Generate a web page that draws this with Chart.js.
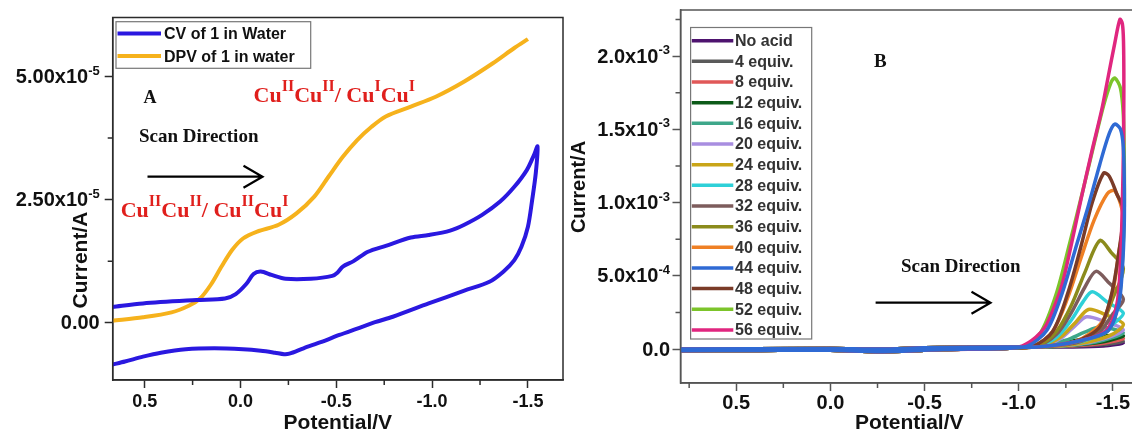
<!DOCTYPE html>
<html>
<head>
<meta charset="utf-8">
<script src="https://cdn.jsdelivr.net/npm/chart.js@4.4.1/dist/chart.umd.min.js"></script>
<style>
  html, body { margin: 0; padding: 0; background: #fff; }
  body { width: 1132px; height: 436px; overflow: hidden; position: relative; }
  canvas { position: absolute; top: 0; }
  #chartA { left: 0; }
  #chartB { left: 566px; }
</style>
</head>
<body>
<canvas id="chartA" width="566" height="436"></canvas>
<canvas id="chartB" width="580" height="436"></canvas>
<script>
// ---- panel A : CV and DPV of 1 in water, current in 1e-5 A ----
const cvPotential = [0.668, 0.509, 0.230, 0.081, 0.025, -0.031, -0.068, -0.106, -0.162, -0.236, -0.367, -0.479, -0.507, -0.534, -0.590, -0.665, -0.758, -0.889, -0.982, -1.094, -1.168, -1.261, -1.355, -1.429, -1.494, -1.532, -1.550,
  -1.541, -1.522, -1.500, -1.466, -1.429, -1.373, -1.299, -1.168, -0.982, -0.795, -0.702, -0.609, -0.516, -0.423, -0.329, -0.255, -0.227, -0.180, -0.106, -0.013, 0.137, 0.286, 0.416, 0.509, 0.603, 0.668];
const cvCurrent = [0.32, 0.39, 0.46, 0.49, 0.58, 0.79, 0.99, 1.04, 0.97, 0.89, 0.89, 0.95, 1.02, 1.14, 1.25, 1.44, 1.56, 1.73, 1.78, 1.87, 1.99, 2.19, 2.46, 2.76, 3.10, 3.41, 3.58,
  3.04, 2.49, 1.95, 1.54, 1.27, 1.04, 0.83, 0.65, 0.39, 0.12, 0.01, -0.12, -0.25, -0.39, -0.52, -0.63, -0.64, -0.61, -0.57, -0.54, -0.52, -0.54, -0.61, -0.69, -0.79, -0.85];
const dpvPotential = [0.668, 0.509, 0.360, 0.267, 0.211, 0.155, 0.099, 0.043, -0.013, -0.087, -0.199, -0.292, -0.385, -0.460, -0.534, -0.609, -0.684, -0.758, -0.889, -1.019, -1.168, -1.317, -1.429, -1.500];
const dpvCurrent = [0.04, 0.11, 0.21, 0.35, 0.49, 0.77, 1.14, 1.48, 1.71, 1.85, 1.99, 2.22, 2.56, 2.97, 3.37, 3.71, 3.98, 4.19, 4.39, 4.59, 4.90, 5.27, 5.58, 5.76];
const seriesA = ["CV of 1 in Water", "DPV of 1 in water"];

// ---- panel B : CVs with added acid, [potential V, current 1e-3 A] ----
const equivLabels = ["No acid", "4 equiv.", "8 equiv.", "12 equiv.", "16 equiv.", "20 equiv.", "24 equiv.", "28 equiv.",
  "32 equiv.", "36 equiv.", "40 equiv.", "44 equiv.", "48 equiv.", "52 equiv.", "56 equiv."];
const baseForward = [[0.80, -0.012], [0.40, -0.010], [0.00, -0.008], [-0.27, -0.018], [-0.60, -0.004], [-0.95, 0.006]];
const baseReverse = [[-0.95, 0.014], [-0.50, 0.008], [-0.27, 0.000], [0.00, 0.004], [0.80, 0.000]];
const noAcid = [[-1.10, 0.014], [-1.30, 0.020], [-1.45, 0.030], [-1.555, 0.040], [-1.45, 0.020], [-1.25, 0.014], [-1.10, 0.014]];
const eq4 = [[-1.15, 0.018], [-1.30, 0.035], [-1.45, 0.048], [-1.555, 0.052], [-1.45, 0.030], [-1.25, 0.018], [-1.10, 0.014]];
const eq8 = [[-1.15, 0.020], [-1.30, 0.045], [-1.42, 0.066], [-1.555, 0.072], [-1.45, 0.040], [-1.25, 0.020], [-1.10, 0.014]];
const eq12 = [[-1.15, 0.022], [-1.30, 0.058], [-1.42, 0.086], [-1.555, 0.090], [-1.45, 0.050], [-1.25, 0.022], [-1.10, 0.014]];
const eq16 = [[-1.12, 0.022], [-1.25, 0.060], [-1.35, 0.115], [-1.43, 0.150], [-1.555, 0.110], [-1.45, 0.060], [-1.30, 0.028], [-1.10, 0.014]];
const eq20 = [[-1.12, 0.022], [-1.22, 0.070], [-1.30, 0.160], [-1.36, 0.220], [-1.45, 0.190], [-1.555, 0.130], [-1.45, 0.070], [-1.30, 0.030], [-1.10, 0.014]];
const eq24 = [[-1.12, 0.022], [-1.22, 0.080], [-1.30, 0.180], [-1.37, 0.270], [-1.45, 0.240], [-1.555, 0.170], [-1.48, 0.090], [-1.30, 0.032], [-1.10, 0.014]];
const eq28 = [[-1.10, 0.022], [-1.20, 0.080], [-1.28, 0.200], [-1.34, 0.320], [-1.39, 0.390], [-1.47, 0.320], [-1.555, 0.245], [-1.50, 0.170], [-1.43, 0.100], [-1.30, 0.040], [-1.10, 0.014]];
const eq32 = [[-1.10, 0.022], [-1.20, 0.100], [-1.28, 0.250], [-1.35, 0.420], [-1.41, 0.530], [-1.48, 0.450], [-1.555, 0.340], [-1.50, 0.240], [-1.43, 0.120], [-1.30, 0.040], [-1.10, 0.014]];
const eq36 = [[-1.10, 0.022], [-1.20, 0.120], [-1.28, 0.300], [-1.35, 0.520], [-1.43, 0.740], [-1.49, 0.660], [-1.555, 0.550], [-1.50, 0.350], [-1.43, 0.150], [-1.30, 0.050], [-1.10, 0.014]];
const eq40 = [[-1.08, 0.022], [-1.18, 0.120], [-1.26, 0.350], [-1.33, 0.620], [-1.40, 0.880], [-1.47, 1.060], [-1.51, 1.080], [-1.555, 0.900], [-1.53, 0.650], [-1.50, 0.400], [-1.44, 0.180], [-1.30, 0.050], [-1.10, 0.014]];
const eq44 = [[-1.05, 0.022], [-1.15, 0.130], [-1.23, 0.380], [-1.30, 0.680], [-1.37, 0.980], [-1.43, 1.260], [-1.48, 1.470], [-1.51, 1.535], [-1.54, 1.500], [-1.555, 1.380], [-1.56, 1.150], [-1.56, 0.850], [-1.55, 0.550], [-1.53, 0.300], [-1.47, 0.120], [-1.30, 0.050], [-1.10, 0.014]];
const eq48 = [[-1.08, 0.022], [-1.18, 0.120], [-1.26, 0.380], [-1.33, 0.700], [-1.39, 1.000], [-1.45, 1.200], [-1.48, 1.180], [-1.52, 1.060], [-1.555, 0.950], [-1.53, 0.650], [-1.49, 0.360], [-1.43, 0.150], [-1.30, 0.050], [-1.10, 0.014]];
const eq52 = [[-1.04, 0.022], [-1.12, 0.120], [-1.20, 0.380], [-1.27, 0.720], [-1.34, 1.080], [-1.40, 1.400], [-1.45, 1.660], [-1.49, 1.820], [-1.51, 1.850], [-1.54, 1.780], [-1.555, 1.600], [-1.56, 1.300], [-1.56, 0.950], [-1.55, 0.600], [-1.53, 0.320], [-1.47, 0.120], [-1.30, 0.050], [-1.10, 0.014]];
const eq56 = [[-1.02, 0.022], [-1.09, 0.080], [-1.14, 0.150], [-1.18, 0.260], [-1.23, 0.440], [-1.28, 0.720], [-1.33, 1.020], [-1.39, 1.360], [-1.44, 1.630], [-1.475, 1.860], [-1.51, 2.090], [-1.537, 2.250], [-1.55, 2.220], [-1.556, 2.100], [-1.558, 1.800], [-1.556, 1.400], [-1.55, 1.000], [-1.54, 0.600], [-1.52, 0.300], [-1.46, 0.120], [-1.30, 0.050], [-1.10, 0.014]];
const curvesB = [noAcid, eq4, eq8, eq12, eq16, eq20, eq24, eq28, eq32, eq36, eq40, eq44, eq48, eq52, eq56];

// ---- ticks ----
const xTicks = [0.5, 0, -0.5, -1, -1.5];
const xMinorA = [0.25, -0.25, -0.75, -1.25];
const xMinorB = [0.75, 0.25, -0.25, -0.75, -1.25];
const yTicksA = [0, 2.5, 5];
const yMinorA = [1.25, 3.75];
const yTicksB = [0, 0.5, 1, 1.5, 2];
const yMinorB = [0.25, 0.75, 1.25, 1.75, 2.25];

// styles
const colorsA = ["#2a18e0", "#f6b21c"];
const colorsB = ["#4e136f", "#5a5a5a", "#e05858", "#0c5a18", "#3ea78a", "#a88ee0", "#c9a518", "#2ed0d8",
  "#7d5c5c", "#8b8b1c", "#ef8024", "#2f6ad4", "#7a3b28", "#7cc42a", "#e0267f"];

const SANS = "'Liberation Sans', Arial, sans-serif";
const SERIF = "'Liberation Serif', 'Times New Roman', serif";
Chart.defaults.font.family = SANS;
Chart.defaults.font.weight = "bold";
Chart.defaults.color = "#111";

function pairs(xs, ys) {
  return xs.map((x, i) => ({ x: x, y: ys[i] }));
}

function axes(o) {
  return {
    x: {
      type: "linear", min: o.xMin, max: o.xMax, reverse: true,
      afterFit: (s) => { s.height = o.xHeight; },
      afterBuildTicks: (s) => { s.ticks = xTicks.map((v) => ({ value: v })); },
      grid: { display: true, drawOnChartArea: false, drawTicks: true, tickLength: 8, tickWidth: 1.5, tickColor: o.frame },
      border: { display: true, color: o.frame, width: 1.5 },
      ticks: { font: { size: o.xTickSize }, color: "#111", padding: o.xPad, maxRotation: 0, callback: (v) => v.toFixed(1) },
      title: { display: true, text: "Potential/V", font: { size: 21 }, color: "#111", padding: { top: 0, bottom: 0 } },
    },
    y: {
      type: "linear", min: o.yMin, max: o.yMax,
      afterFit: (s) => { s.width = o.yWidth; },
      afterBuildTicks: (s) => { s.ticks = o.yTicks.map((v) => ({ value: v })); },
      grid: { display: true, drawOnChartArea: false, drawTicks: true, tickLength: 8, tickWidth: 1.5, tickColor: o.frame },
      border: { display: true, color: o.frame, width: 1.5 },
      ticks: { display: false },
    },
  };
}

// draws the box round the plot and the short minor ticks
function frame(chart, color, xMinor, yMinor) {
  const ctx = chart.ctx, a = chart.chartArea, sx = chart.scales.x, sy = chart.scales.y;
  ctx.save();
  ctx.strokeStyle = color;
  ctx.lineWidth = 1.5;
  ctx.strokeRect(a.left, a.top, a.right - a.left, a.bottom - a.top);
  ctx.beginPath();
  xMinor.forEach((v) => { const p = sx.getPixelForValue(v); ctx.moveTo(p, a.bottom); ctx.lineTo(p, a.bottom + 5); });
  yMinor.forEach((v) => { const p = sy.getPixelForValue(v); ctx.moveTo(a.left, p); ctx.lineTo(a.left - 5, p); });
  ctx.stroke();
  ctx.restore();
}

// y tick labels like 5.00x10^-5 with a real raised exponent
function yLabels(chart, ticks, fmt, size, supSize, gap) {
  const ctx = chart.ctx, sy = chart.scales.y;
  const right = chart.chartArea.left - 8 - gap;
  ctx.save();
  ctx.fillStyle = "#111";
  ticks.forEach((v) => {
    const t = fmt(v), py = sy.getPixelForValue(v);
    ctx.font = "bold " + supSize + "px " + SANS;
    const ws = t[1] ? ctx.measureText(t[1]).width : 0;
    if (t[1]) {
      ctx.textAlign = "left"; ctx.textBaseline = "alphabetic";
      ctx.fillText(t[1], right - ws, py - 2);
    }
    ctx.font = "bold " + size + "px " + SANS;
    ctx.textAlign = "right"; ctx.textBaseline = "middle";
    ctx.fillText(t[0], right - ws, py + 1);
  });
  ctx.restore();
}

function yTitle(ctx, text, x, y, size) {
  ctx.save();
  ctx.translate(x, y);
  ctx.rotate(-Math.PI / 2);
  ctx.font = "bold " + size + "px " + SANS;
  ctx.fillStyle = "#111";
  ctx.textAlign = "center";
  ctx.textBaseline = "middle";
  ctx.fillText(text, 0, 0);
  ctx.restore();
}

function serifText(ctx, text, x, y, size, color) {
  ctx.save();
  ctx.font = "bold " + size + "px " + SERIF;
  ctx.fillStyle = color || "#111";
  ctx.textAlign = "left";
  ctx.textBaseline = "alphabetic";
  ctx.fillText(text, x, y);
  ctx.restore();
}

// text with raised roman numerals, e.g. Cu^II
function richText(ctx, parts, x, y) {
  ctx.save();
  ctx.fillStyle = "#e01f1c";
  ctx.textAlign = "left";
  ctx.textBaseline = "alphabetic";
  parts.forEach((p) => {
    ctx.font = "bold " + (p[1] ? 16 : 22) + "px " + SERIF;
    ctx.fillText(p[0], x, p[1] ? y - 11 : y);
    x += ctx.measureText(p[0]).width;
  });
  ctx.restore();
}

function arrow(ctx, x1, x2, y) {
  ctx.save();
  ctx.strokeStyle = "#000";
  ctx.lineWidth = 2.2;
  ctx.beginPath();
  ctx.moveTo(x1, y); ctx.lineTo(x2, y);
  ctx.moveTo(x2 - 19, y - 11); ctx.lineTo(x2, y); ctx.lineTo(x2 - 19, y + 11);
  ctx.stroke();
  ctx.restore();
}

function legendBox(chart, box, x0, x1, x2, y0, dy, size, textColor, lineW) {
  const ctx = chart.ctx;
  ctx.save();
  ctx.fillStyle = "#fff";
  ctx.fillRect(box[0], box[1], box[2], box[3]);
  ctx.strokeStyle = "#777";
  ctx.lineWidth = 1.2;
  ctx.strokeRect(box[0], box[1], box[2], box[3]);
  ctx.font = "bold " + size + "px " + SANS;
  ctx.textBaseline = "middle";
  ctx.textAlign = "left";
  chart.data.datasets.forEach((d, i) => {
    const y = y0 + i * dy;
    ctx.strokeStyle = d.borderColor;
    ctx.lineWidth = lineW;
    ctx.beginPath(); ctx.moveTo(x0, y); ctx.lineTo(x1, y); ctx.stroke();
    ctx.fillStyle = textColor;
    ctx.fillText(d.label, x2, y + 1);
  });
  ctx.restore();
}

// ---- chart A ----
new Chart(document.getElementById("chartA"), {
  type: "scatter",
  data: {
    datasets: [
      { label: seriesA[0], data: pairs(cvPotential, cvCurrent), borderColor: colorsA[0], borderWidth: 4, showLine: true, pointRadius: 0, tension: 0.3 },
      { label: seriesA[1], data: pairs(dpvPotential, dpvCurrent), borderColor: colorsA[1], borderWidth: 4, showLine: true, pointRadius: 0, tension: 0.3 },
    ],
  },
  options: {
    responsive: false, animation: false,
    layout: { padding: { top: 17.5, right: 3, left: 0, bottom: 0 } },
    plugins: { legend: { display: false }, tooltip: { enabled: false } },
    scales: axes({
      xMin: -1.683, xMax: 0.667, xHeight: 56, xTickSize: 18, xPad: 3,
      yMin: -1.165, yMax: 6.2, yWidth: 112.7, yTicks: yTicksA, frame: "#2b2b2b",
    }),
  },
  plugins: [{
    id: "decorA",
    afterDraw(chart) {
      const ctx = chart.ctx;
      frame(chart, "#2b2b2b", xMinorA, yMinorA);
      yLabels(chart, yTicksA, (v) => (v === 0 ? ["0.00"] : [v.toFixed(2) + "x10", "-5"]), 20, 13, 5);
      yTitle(ctx, "Current/A", 81, 260, 21);
      legendBox(chart, [116, 21.7, 194.7, 46.6], 117.5, 161, 164, 33.5, 22.6, 16, "#111", 4);
      serifText(ctx, "A", 143.6, 102.5, 18);
      serifText(ctx, "Scan Direction", 139, 141.7, 19);
      arrow(ctx, 147.5, 262.5, 176.7);
      richText(ctx, [["Cu"], ["II", 1], ["Cu"], ["II", 1], ["/ "], ["Cu"], ["I", 1], ["Cu"], ["I", 1]], 253.6, 101.7);
      richText(ctx, [["Cu"], ["II", 1], ["Cu"], ["II", 1], ["/ "], ["Cu"], ["II", 1], ["Cu"], ["I", 1]], 120.7, 217);
    },
  }],
});

// ---- chart B ----
const order44 = equivLabels.indexOf("44 equiv.");
new Chart(document.getElementById("chartB"), {
  type: "scatter",
  data: {
    datasets: curvesB.map((c, i) => ({
      label: equivLabels[i],
      data: baseForward.concat(c, baseReverse).map((p) => ({ x: p[0], y: p[1] })),
      borderColor: colorsB[i], borderWidth: 3.5, showLine: true, pointRadius: 0, tension: 0.3,
      order: i === order44 ? -1 : 15 - i,
    })),
  },
  options: {
    responsive: false, animation: false,
    layout: { padding: { top: 10, right: 8, left: 0, bottom: 0 } },
    plugins: { legend: { display: false }, tooltip: { enabled: false } },
    scales: axes({
      xMin: -1.633, xMax: 0.796, xHeight: 53, xTickSize: 20, xPad: 0,
      yMin: -0.232, yMax: 2.314, yWidth: 114.5, yTicks: yTicksB, frame: "#555",
    }),
  },
  plugins: [{
    id: "decorB",
    afterDraw(chart) {
      const ctx = chart.ctx;
      frame(chart, "#555", xMinorB, yMinorB);
      yLabels(chart, yTicksB, (v) => (v === 0 ? ["0.0"] : v >= 1 ? [v.toFixed(1) + "x10", "-3"] : [(v * 10).toFixed(1) + "x10", "-4"]), 20, 13, 2.5);
      yTitle(ctx, "Current/A", 13, 187, 20);
      legendBox(chart, [124.6, 27.5, 121.1, 311.5], 125.8, 167.3, 169, 40.7, 20.66, 16, "#333", 3.5);
      serifText(ctx, "B", 308, 66.7, 19);
      serifText(ctx, "Scan Direction", 335, 272, 19);
      arrow(ctx, 309.6, 424.5, 302.7);
    },
  }],
});
</script>
</body>
</html>
